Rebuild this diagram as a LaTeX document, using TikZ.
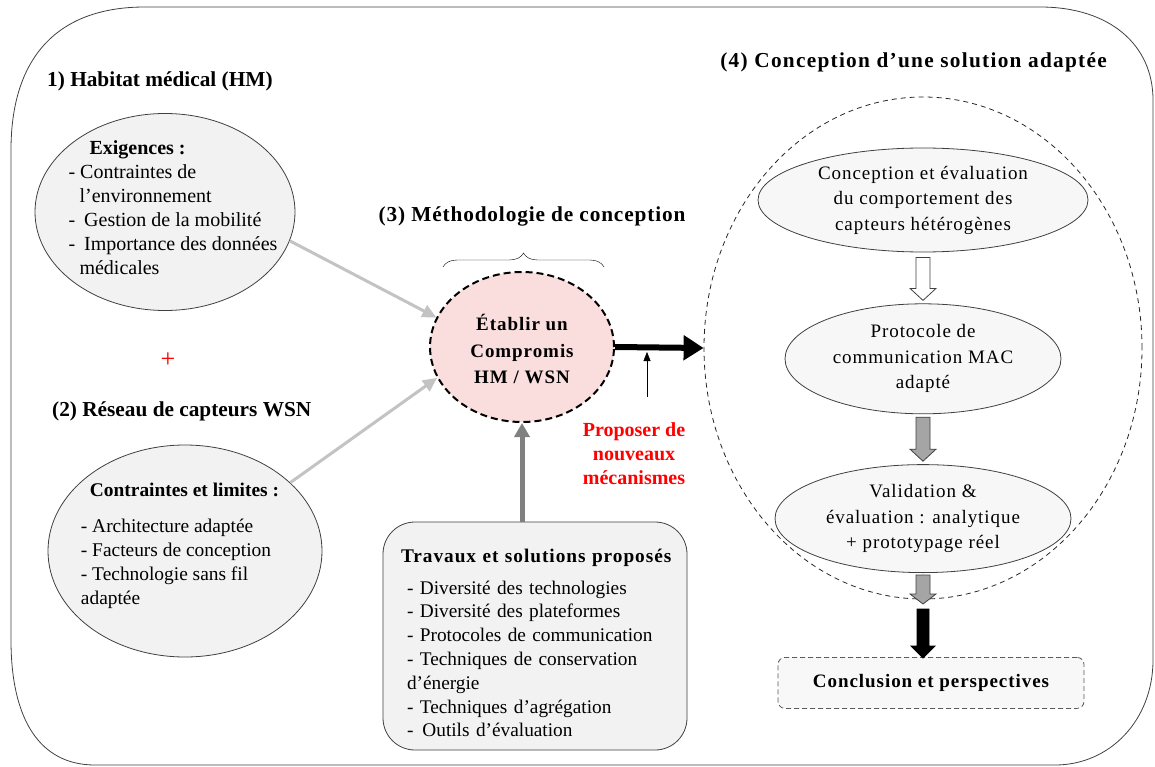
\documentclass[tikz,border=0pt]{standalone}
\usepackage{fontspec}
\setmainfont{Liberation Serif}
\usetikzlibrary{positioning, shapes.geometric, arrows.meta, decorations.pathreplacing}

\definecolor{cellgray}{RGB}{242,242,242}
\definecolor{edgegray}{RGB}{64,64,64}
\definecolor{linkgray}{RGB}{195,195,195}
\definecolor{upgray}{RGB}{128,128,128}
\definecolor{stepgray}{RGB}{165,165,165}
\definecolor{rosefill}{RGB}{250,222,222}

\tikzset{
  txt/.style={font=\fontsize{19}{24}\selectfont, inner sep=0pt},
  airy/.style={font=\fontsize{19}{25.5}\selectfont\addfontfeatures{LetterSpace=5}, inner sep=0pt, align=center},
  heading/.style={font=\fontsize{21.3}{24}\selectfont\bfseries, inner sep=0pt},
  greyell/.style={ellipse, thick, draw=edgegray, fill=cellgray, inner sep=0pt},
  stageell/.style={ellipse, thick, draw=edgegray, fill=cellgray!60, inner sep=0pt},
  feed/.style={line width=3pt, linkgray, -{Triangle[length=14pt,width=13pt]}},
}

\begin{document}
\begin{tikzpicture}[x=1pt, y=-1pt]
  \useasboundingbox (0,0) rectangle (1155,767);
  % outer frame
  \draw[thick, draw=edgegray] (11,640) -- (11,150) .. controls (11,60) and (55,7) .. (145,7)
    -- (1040,7) .. controls (1110,7) and (1153,45) .. (1153,100)
    -- (1153,660) .. controls (1153,720) and (1110,765) .. (1055,765)
    -- (95,765) .. controls (40,765) and (11,720) .. (11,640);

  % (1) and (2)
  \node[heading, anchor=west] (hm) at (47,81) {1) Habitat médical (HM)};
  \node[greyell, minimum width=260pt, minimum height=197pt] (exig) at (165,212) {};
  \node[txt, font=\fontsize{20}{24}\selectfont, align=left] (exigtext) at (173,208)
    {\hspace*{21pt}\textbf{Exigences :}\\
     - Contraintes de\\
     \hspace*{11pt}l’environnement\\
     -\hspace*{9pt}Gestion de la mobilité\\
     -\hspace*{9pt}Importance des données\\
     \hspace*{11pt}médicales};
  \node[font=\fontsize{26}{26}\selectfont, text=red] (plus) at (168,360) {+};
  \node[heading, anchor=west] (wsn) at (52,411) {(2) Réseau de capteurs WSN};
  \node[greyell, minimum width=274pt, minimum height=212pt] (limits) at (185,551) {};
  \node[txt, font=\fontsize{19.4}{24}\selectfont, align=left] (limitstext) at (180,546)
    {\hspace*{9pt}\textbf{Contraintes et limites :}\\[12pt]
     - Architecture adaptée\\
     - Facteurs de conception\\
     - Technologie sans fil\\
     adaptée};

  % (3)
  \node[heading, font=\fontsize{21.3}{24}\selectfont\bfseries\addfontfeatures{LetterSpace=4}] (metho) at (532,216)
    {(3) Méthodologie de conception};
  \draw[thin, decorate, decoration={brace, amplitude=14pt}] (443,267) -- (604,267);
  \node[ellipse, line width=2pt, dash pattern=on 7pt off 4pt, draw=black, fill=rosefill,
    minimum width=184pt, minimum height=150pt, inner sep=0pt] (comp) at (522,347) {};
  \node[airy, font=\fontsize{19}{26.5}\selectfont\bfseries\addfontfeatures{LetterSpace=5}] (comptext) at (522,349)
    {Établir un\\Compromis\\HM / WSN};
  \node[rectangle, rounded corners=32pt, thick, draw=edgegray, fill=cellgray,
    minimum width=304pt, minimum height=228pt] (works) at (535,636) {};
  \node[txt, font=\fontsize{19.3}{23.8}\selectfont, align=left, text width=272pt] (workstext) at (537,643)
    {\textbf{\addfontfeatures{LetterSpace=5}Travaux et solutions proposés}\\[8pt]
     \hspace*{6pt}- Diversité des technologies\\
     \hspace*{6pt}- Diversité des plateformes\\
     \hspace*{6pt}- Protocoles de communication\\
     \hspace*{6pt}- Techniques de conservation\\
     \hspace*{6pt}d’énergie\\
     \hspace*{6pt}- Techniques d’agrégation\\
     \hspace*{6pt}-\hspace*{9pt}Outils d’évaluation};
  \node[txt, text=red, font=\fontsize{20}{24}\selectfont\bfseries, align=center] (propose) at (634,454)
    {Proposer de\\nouveaux\\mécanismes};

  \draw[feed] (exig.-13) -- (comp.161);
  \draw[feed] (limits.33) -- (comp.200);
  \draw[line width=5pt, upgray, -{Triangle[length=14pt,width=15pt]}] (comp.south |- works.north) -- (comp.south);

  % (4)
  \node[heading, font=\fontsize{21.3}{24}\selectfont\bfseries\addfontfeatures{LetterSpace=6}, anchor=east] (sol) at (1107,62)
    {(4) Conception d’une solution adaptée};
  \node[ellipse, thick, dash pattern=on 5pt off 4pt, draw=black!85, minimum width=438pt,
    minimum height=502pt, inner sep=0pt] (design) at (923,348) {};
  \node[stageell, minimum width=330pt, minimum height=104pt] (behav) at (923,200) {};
  \node[airy] (behavtext) at (behav) {Conception et évaluation\\du comportement des\\capteurs hétérogènes};
  \node[stageell, minimum width=276pt, minimum height=110pt, below=51pt of behav] (mac) {};
  \node[airy] (mactext) at (mac) {Protocole de\\communication MAC\\adapté};
  \node[stageell, minimum width=296pt, minimum height=108pt, below=50pt of mac] (valid) {};
  \node[airy] (validtext) at (valid) {Validation \&\\évaluation : analytique\\+ prototypage réel};
  \node[rectangle, rounded corners=7pt, thick, dash pattern=on 5pt off 3pt, draw=black!65,
    fill=cellgray!50, minimum width=306pt, minimum height=51pt,
    font=\fontsize{19}{24}\selectfont\bfseries\addfontfeatures{LetterSpace=5},
    below=84pt of valid.south, anchor=north, xshift=8pt] (concl) {Conclusion et perspectives};

  \draw[line width=6pt, -{Triangle[length=20pt,width=24pt]}] (comp.east) -- (design.west);
  \draw[thin, -{Triangle[length=9pt,width=7pt]}] ([xshift=13pt,yshift=26pt]propose.north) -- ([xshift=13pt,yshift=-5pt]propose.north |- comp.east);

  \filldraw[thick, draw=edgegray, fill=white] ([yshift=-5pt]behav.south) ++(-7,0) -- ++(14,0) -- ++(0,31)
    -- ++(6,0) -- ++(-13,12) -- ++(-13,-12) -- ++(6,0) -- cycle;
  \filldraw[thick, draw=edgegray, fill=stepgray] ([yshift=-3pt]mac.south) ++(-7,0) -- ++(14,0) -- ++(0,32)
    -- ++(6,0) -- ++(-13,12) -- ++(-13,-12) -- ++(6,0) -- cycle;
  \filldraw[thick, draw=edgegray, fill=stepgray] ([yshift=-2pt]valid.south) ++(-7,0) -- ++(14,0) -- ++(0,19)
    -- ++(6,0) -- ++(-13,10) -- ++(-13,-10) -- ++(6,0) -- cycle;
  \filldraw[thick, fill=black] ([yshift=-36pt]valid.south) ++(-6,0) -- ++(12,0) -- ++(0,37)
    -- ++(6,0) -- ++(-12,12) -- ++(-12,-12) -- ++(6,0) -- cycle;
\end{tikzpicture}
\end{document}
